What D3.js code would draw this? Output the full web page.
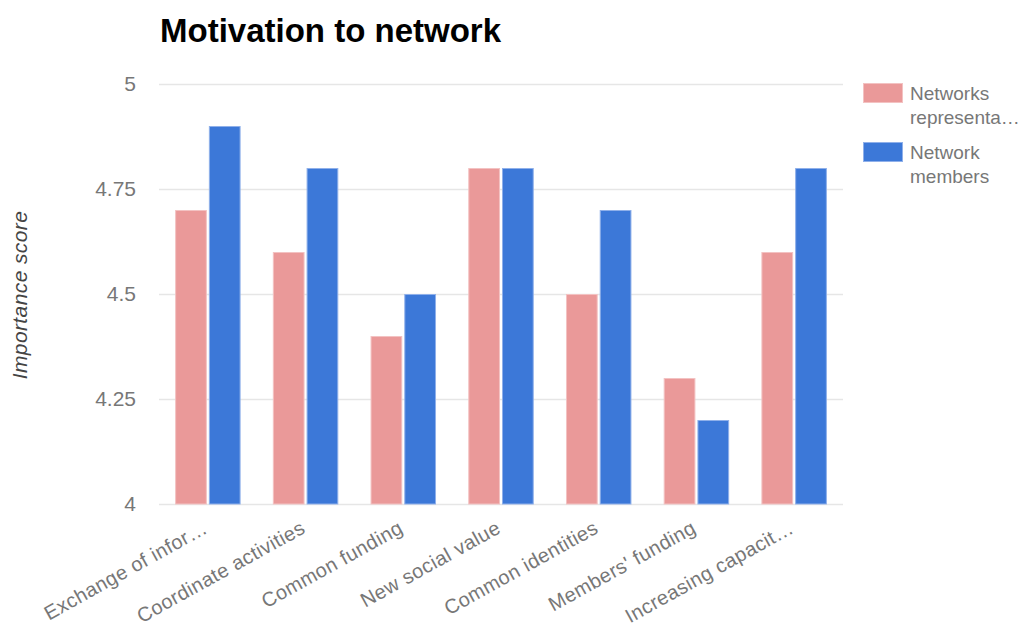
<!DOCTYPE html>
<html>
<head>
<meta charset="utf-8">
<script src="https://cdn.jsdelivr.net/npm/d3@7/dist/d3.min.js"></script>
<style>
  html, body { margin: 0; padding: 0; background: #fff; }
  svg { display: block; font-family: "Liberation Sans", Arial, sans-serif; }
</style>
</head>
<body>
<svg id="chart" width="1024" height="628"></svg>
<script>
// Motivation categories (axis labels are shortened with an ellipsis where long)
const categories = [
  "Exchange of infor\u2026",
  "Coordinate activities",
  "Common funding",
  "New social value",
  "Common identities",
  "Members' funding",
  "Increasing capacit\u2026"
];
const seriesNames = ["Networks representa\u2026", "Network members"];
const representatives = [4.7, 4.6, 4.4, 4.8, 4.5, 4.3, 4.6];
const members = [4.9, 4.8, 4.5, 4.8, 4.7, 4.2, 4.8];
const yTicks = [4, 4.25, 4.5, 4.75, 5];
const colors = ["#ea9999", "#3c78d8"];
const edgeColors = ["#f3c2c2", "#8fb0ea"];

const svg = d3.select("#chart");
const plot = { left: 159, right: 843, top: 84, bottom: 504 };
const FONT = "\"Liberation Sans\", Arial, sans-serif";

const x0 = d3.scaleBand().domain(categories).range([plot.left, plot.right]).paddingInner(0.33).paddingOuter(0.165);
const x1 = d3.scaleBand().domain([0, 1]).range([0, x0.bandwidth()]).paddingInner(0.06);
const y = d3.scaleLinear().domain([4, 5]).range([plot.bottom, plot.top]);

// Title
svg.append("text")
  .attr("x", 160).attr("y", 42)
  .attr("font-size", 33).attr("font-weight", "bold").attr("fill", "#000")
  .text("Motivation to network");

// Gridlines and y tick labels
const yAxis = d3.axisLeft(y).tickValues(yTicks).tickSize(-(plot.right - plot.left)).tickFormat(d => String(d));
const gy = svg.append("g").attr("transform", `translate(${plot.left},0)`).call(yAxis);
gy.select(".domain").remove();
gy.selectAll(".tick line").attr("stroke", "#e6e6e6").attr("stroke-width", 1.5);
gy.selectAll(".tick text")
  .attr("x", -23).attr("font-size", 21).attr("fill", "#777")
  .attr("font-family", FONT);

// Y axis title
svg.append("text")
  .attr("transform", `translate(27,${(plot.top + plot.bottom) / 2 + 1}) rotate(-90)`)
  .attr("text-anchor", "middle").attr("font-size", 21).attr("font-style", "italic").attr("fill", "#444")
  .attr("letter-spacing", 0.4)
  .text("Importance score");

// Bars
const rows = categories.map((c, i) => ({ cat: c, vals: [representatives[i], members[i]] }));
const groups = svg.append("g").selectAll("g").data(rows).join("g")
  .attr("transform", d => `translate(${x0(d.cat)},0)`);
groups.selectAll("rect").data(d => d.vals.map((v, s) => ({ v, s }))).join("rect")
  .attr("x", d => x1(d.s) + 0.5)
  .attr("y", d => y(d.v) + 0.5)
  .attr("width", x1.bandwidth() - 1)
  .attr("height", d => y(4) - y(d.v) - 0.5)
  .attr("fill", d => colors[d.s])
  .attr("stroke", d => edgeColors[d.s])
  .attr("stroke-width", 1);

// X axis labels (rotated)
const xAxis = d3.axisBottom(x0).tickSize(0);
const gx = svg.append("g").attr("transform", `translate(0,${plot.bottom})`).call(xAxis);
gx.select(".domain").remove();
gx.selectAll(".tick text")
  .attr("font-size", 20).attr("fill", "#777")
  .attr("font-family", FONT)
  .attr("letter-spacing", 0.4)
  .attr("text-anchor", "end")
  .attr("dy", 0).attr("y", 0)
  .attr("transform", "translate(1,28) rotate(-29)");

// Legend
const legend = svg.append("g");
const legendLines = [["Networks", "representa\u2026"], ["Network", "members"]];
seriesNames.forEach((name, s) => {
  const ly = 83 + s * 59;
  legend.append("rect").attr("x", 863.5).attr("y", ly + 0.5).attr("width", 39).attr("height", 19)
    .attr("fill", colors[s]).attr("stroke", edgeColors[s]);
  const t = legend.append("text").attr("x", 910).attr("y", ly + 17).attr("font-size", 19).attr("fill", "#777");
  legendLines[s].forEach((line, k) => {
    t.append("tspan").attr("x", 910).attr("dy", k === 0 ? 0 : 24).text(line);
  });
});
</script>
</body>
</html>
